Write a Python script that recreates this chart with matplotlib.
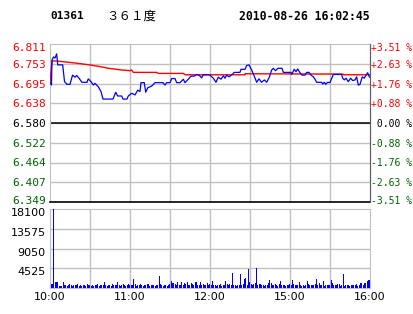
import matplotlib
matplotlib.use("Agg")
import matplotlib.pyplot as plt
import matplotlib.transforms as mtransforms
import numpy as np

# stock 01361, 2010-08-26, minutes since 10:00 (trading minutes)
code = "01361"
name = "３６１度"
stamp = "2010-08-26 16:02:45"
prev_close = 6.580

price_t = [0, 1.1, 1.5, 2.6, 3.75, 5, 5.8, 9.5, 10.9, 12.75, 15, 16.9, 18.75, 20, 21.75, 24,
           27.75, 28.7, 30.75, 32.5, 33.75, 36.2, 38.25, 39.75, 47.25, 49.3, 50.75, 53.75,
           54.75, 57.75, 58.7, 61.3, 63.75, 65.8, 67.5, 68.25, 70.7, 71.8, 73.3, 76.3, 78.75,
           84.75, 86.25, 87.5, 90, 91.3, 93.75, 95, 97.5, 100, 101.25, 103.7, 105.75, 108.2,
           110, 111.75, 113.75, 115, 118.5, 120, 122.5, 124.5, 126.2, 128.25, 130, 131.25,
           132.5, 134.25, 136.7, 138.2, 142.5, 143.25, 146.25, 147.5, 149.25, 151.25, 153.2,
           155, 156.75, 158.75, 160.7, 162.5, 164.5, 166.25, 167.5, 169.1, 171, 174, 175,
           180.75, 181.3, 183.2, 184.5, 185.75, 187.5, 189, 191.25, 192.5, 194.25, 195.75,
           197.5, 198.75, 200, 203.75, 204.5, 205.7, 206.75, 208.25, 210, 211.3, 212.5,
           218.75, 219.5, 220.7, 222, 223.7, 225.5, 227, 228.75, 230, 231.2, 232.5, 234.2,
           235.7, 237, 238.25, 239.5, 240]
price = [6.698, 6.691, 6.764, 6.773, 6.770, 6.782, 6.750, 6.750, 6.701, 6.693, 6.693, 6.720,
         6.714, 6.719, 6.711, 6.699, 6.699, 6.709, 6.701, 6.691, 6.696, 6.686, 6.672, 6.650,
         6.650, 6.670, 6.659, 6.659, 6.650, 6.650, 6.659, 6.667, 6.662, 6.676, 6.672, 6.698,
         6.698, 6.670, 6.683, 6.688, 6.698, 6.698, 6.691, 6.698, 6.698, 6.710, 6.710, 6.698,
         6.698, 6.708, 6.698, 6.708, 6.717, 6.717, 6.722, 6.720, 6.712, 6.721, 6.721, 6.720,
         6.711, 6.699, 6.714, 6.708, 6.718, 6.711, 6.720, 6.715, 6.722, 6.728, 6.728, 6.737,
         6.737, 6.748, 6.750, 6.735, 6.717, 6.699, 6.709, 6.699, 6.706, 6.699, 6.714, 6.735,
         6.740, 6.733, 6.740, 6.740, 6.728, 6.728, 6.722, 6.737, 6.730, 6.738, 6.727, 6.720,
         6.720, 6.728, 6.728, 6.720, 6.715, 6.708, 6.699, 6.699, 6.694, 6.699, 6.693, 6.699,
         6.698, 6.711, 6.722, 6.722, 6.711, 6.706, 6.711, 6.701, 6.711, 6.704, 6.706, 6.715,
         6.691, 6.693, 6.715, 6.711, 6.720, 6.727, 6.715, 6.714]

avg_t = [0, 1.5, 5.8, 12.75, 17.5, 23.75, 31.25, 37.5, 43.75, 53.75, 60, 61.2, 62.5, 80,
         81.25, 100, 101.25, 146.25, 146.3, 219.75, 220, 240]
avg_price = [6.698, 6.762, 6.761, 6.758, 6.756, 6.753, 6.749, 6.745, 6.740, 6.735, 6.733,
             6.735, 6.728, 6.728, 6.725, 6.725, 6.721, 6.721, 6.724, 6.723, 6.721, 6.721]

volume = [1700, 1000, 1000, 18100, 1400, 1400, 1400, 540, 540, 540, 1400, 600, 800, 500, 700, 900, 600, 500, 800, 700,
          600, 900, 500, 700, 400, 800, 600, 500, 900, 700, 600, 500, 800, 400, 700, 600, 900, 500, 600, 800,
          700, 1400, 600, 500, 800, 700, 500, 900, 600, 700, 800, 1400, 600, 500, 700, 900, 600, 500, 800, 1000,
          700, 600, 800, 2100, 900, 500, 700, 600, 1000, 800, 500, 700, 600, 900, 1000, 500, 700, 800, 600, 500,
          700, 600, 2800, 900, 600, 500, 700, 800, 500, 600, 1000, 1600, 1200, 1200, 900, 600, 1300, 800, 600, 1400,
          700, 1100, 900, 1300, 800, 600, 1200, 900, 700, 1300, 1400, 800, 600, 1400, 700, 900, 600, 800, 1100, 700,
          900, 600, 1600, 800, 700, 500, 600, 700, 900, 500, 800, 700, 1600, 900, 700, 1000, 600, 3500, 700, 600,
          500, 700, 600, 3100, 800, 1000, 2100, 2300, 700, 4400, 1400, 900, 800, 900, 1200, 4650, 800, 1000, 900, 600,
          600, 500, 700, 800, 1200, 1800, 1100, 800, 600, 900, 600, 500, 1000, 1600, 700, 800, 600, 500, 700, 600,
          900, 700, 1800, 1000, 700, 600, 800, 1300, 700, 500, 600, 500, 800, 1600, 900, 700, 800, 600, 700, 900,
          2100, 700, 1100, 800, 700, 1600, 500, 600, 700, 800, 600, 1800, 1100, 800, 600, 700, 900, 1000, 500, 600,
          3100, 500, 600, 700, 600, 500, 700, 800, 600, 700, 900, 500, 700, 1200, 1200, 800, 1100, 1200, 1500, 1900,
          1900]
vol_t = np.arange(len(volume))

price_labels = ["6.811", "6.753", "6.695", "6.638", "6.580", "6.522", "6.464", "6.407", "6.349"]
pct_labels = ["+3.51 %", "+2.63 %", "+1.76 %", "+0.88 %", " 0.00 %", "-0.88 %", "-1.76 %", "-2.63 %", "-3.51 %"]
vol_ticks = [4525, 9050, 13575, 18100]
time_ticks = [0, 60, 120, 180, 240]
time_labels = ["10:00", "11:00", "12:00", "15:00", "16:00"]

red = "#ff0000"
green = "#006400"
grid_c = "#c0c0c0"
mono = "DejaVu Sans Mono"

fig = plt.figure(figsize=(4.14, 3.14), dpi=100)
W, H = 414, 314
ax = fig.add_axes([50 / W, (H - 202) / H, 320 / W, 158 / H])
axv = fig.add_axes([50 / W, (H - 288) / H, 320 / W, 79 / H])

step = (6.811 - prev_close) / 4
pticks = [prev_close + step * k for k in range(4, -5, -1)]

# price panel
ax.set_xlim(0, 240)
ax.set_ylim(pticks[-1], pticks[0])
for x in range(30, 240, 30):
    ax.axvline(x, color=grid_c, lw=1, zorder=1)
for y in pticks[1:-1]:
    ax.axhline(y, color=grid_c, lw=1, zorder=1)
ax.axhline(prev_close, color="black", lw=1.1, zorder=2)
ax.plot(avg_t, avg_price, color=red, lw=1.0, zorder=3)
ax.plot(price_t, price, color="#0000ff", lw=0.9, zorder=4)
ax.set_xticks([])
ax.set_yticks(pticks)
ax.set_yticklabels(price_labels, fontsize=8, family=mono)
ax.tick_params(axis="y", length=0, pad=3)
labs = ax.get_yticklabels()
for i, lab in enumerate(labs):
    lab.set_color(red if i < 4 else ("black" if i == 4 else green))
# first label sits a bit below the top edge, last one a bit above the bottom
labs[0].set_transform(labs[0].get_transform() + mtransforms.ScaledTranslation(0, -3 / 100, fig.dpi_scale_trans))
labs[-1].set_transform(labs[-1].get_transform() + mtransforms.ScaledTranslation(0, 2 / 100, fig.dpi_scale_trans))
for s in ["left", "top"]:
    ax.spines[s].set_color(grid_c)
ax.spines["bottom"].set_color("black")
ax.spines["bottom"].set_linewidth(1.2)
ax.spines["right"].set_color("#606060")

ax2 = ax.twinx()
lim = (pticks[0] - prev_close) / prev_close * 100
ax2.set_ylim(-lim, lim)
ax2.set_yticks([(p - prev_close) / prev_close * 100 for p in pticks])
ax2.set_yticklabels(pct_labels, fontsize=7, family=mono)
ax2.tick_params(axis="y", length=0, pad=1)
labs2 = ax2.get_yticklabels()
for i, lab in enumerate(labs2):
    lab.set_color(red if i < 4 else ("black" if i == 4 else green))
labs2[0].set_transform(labs2[0].get_transform() + mtransforms.ScaledTranslation(0, -3 / 100, fig.dpi_scale_trans))
labs2[-1].set_transform(labs2[-1].get_transform() + mtransforms.ScaledTranslation(0, 2 / 100, fig.dpi_scale_trans))
for s in ["left", "top", "bottom"]:
    ax2.spines[s].set_visible(False)
ax2.spines["right"].set_color("#606060")

# volume panel
axv.set_xlim(0, 240)
axv.set_ylim(0, 18100)
for x in range(30, 240, 30):
    axv.axvline(x, color=grid_c, lw=1, zorder=1)
for y in vol_ticks[:-1]:
    axv.axhline(y, color=grid_c, lw=1, zorder=1)
axv.bar(vol_t, volume, width=0.75, color="#0000ff", linewidth=0, zorder=3)
axv.set_yticks(vol_ticks)
axv.set_yticklabels([str(v) for v in vol_ticks], fontsize=8)
axv.set_xticks(time_ticks)
axv.set_xticklabels(time_labels, fontsize=8)
axv.tick_params(length=0, pad=3)
for lab in axv.get_yticklabels():
    lab.set_transform(lab.get_transform() + mtransforms.ScaledTranslation(0, -3 / 100, fig.dpi_scale_trans))
for s in axv.spines.values():
    s.set_color(grid_c)

fig.text(50 / W, 1 - 16 / H, code, fontsize=8, family=mono, weight="bold", va="center")
fig.text(106 / W, 1 - 16 / H, name, fontsize=9, family=["Noto Sans CJK SC", "DejaVu Sans"], va="center")
fig.text(370 / W, 1 - 16 / H, stamp, fontsize=8.3, family=mono, weight="bold", va="center", ha="right")

fig.savefig("out.png", dpi=100)
